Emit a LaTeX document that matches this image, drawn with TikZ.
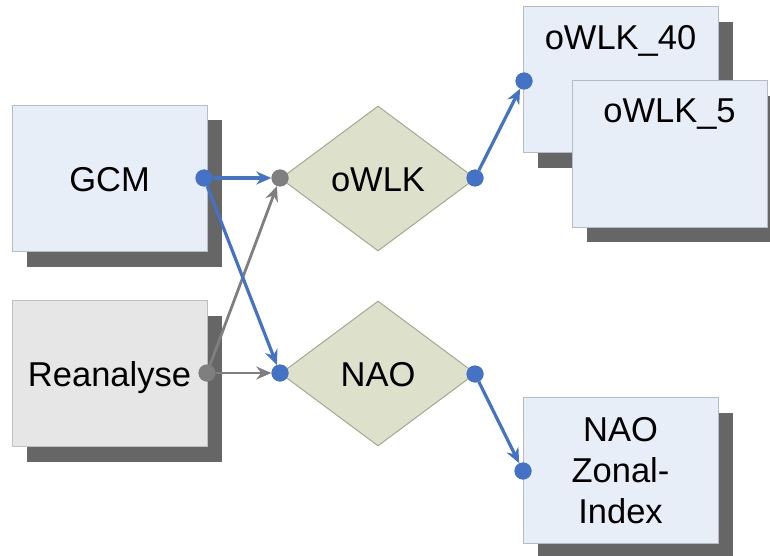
\documentclass[tikz,border=0pt]{standalone}
\usepackage{fontspec}
\setmainfont{Liberation Sans}
\usetikzlibrary{shapes.geometric,arrows.meta,shadows}
\definecolor{boxblue}{HTML}{E8EEF8}
\definecolor{boxline}{HTML}{B4BCC8}
\definecolor{boxgray}{HTML}{E6E6E6}
\definecolor{grayline}{HTML}{BFBFBF}
\definecolor{shadowgray}{HTML}{666666}
\definecolor{diafill}{HTML}{DDE0CA}
\definecolor{dialine}{HTML}{A5A78F}
\definecolor{linkblue}{HTML}{4472C4}
\definecolor{linkgray}{HTML}{7F7F7F}
\begin{document}
\begin{tikzpicture}[x=1pt,y=-1pt,
  font=\fontsize{34.5}{41}\selectfont,
  box/.style={draw=boxline, line width=1pt, fill=boxblue, minimum width=195pt,
    minimum height=146pt, inner sep=0pt, align=center,
    drop shadow={shadow xshift=15pt, shadow yshift=-15pt, fill=shadowgray, opacity=1}},
  graybox/.style={box, draw=grayline, fill=boxgray},
  capc/.style={text height=25pt, text depth=0pt},
  dia/.style={diamond, draw=dialine, line width=1pt, fill=diafill, minimum width=195pt,
    minimum height=145pt, inner sep=0pt, capc},
  bdot/.style={circle, fill=linkblue, minimum size=17pt, inner sep=0pt},
  gdot/.style={circle, fill=linkgray, minimum size=17pt, inner sep=0pt},
  blink/.style={draw=linkblue, line width=3.2pt, -{Stealth[length=15pt,width=13pt]}},
  glink/.style={draw=linkgray, line width=2.8pt, -{Stealth[length=15pt,width=13pt]}},
  lbl/.style={anchor=base, inner sep=0pt}
]
\useasboundingbox (0,0) rectangle (770,556);

% boxes
\node[box, capc] (gcm) at (109.5,178.5) {GCM};
\node[graybox, capc] (rea) at (109.5,373.5) {Reanalyse};
\node[box] (w40) at (620.5,80) {};
\node[lbl] (w40t) at (620.5,50) {oWLK\_40};
\node[box] (w5) at (669.5,154) {};
\node[lbl] (w5t) at (669.5,123) {oWLK\_5};
\node[box] (nzi) at (620.5,470.5) {NAO\\Zonal-\\Index};

% diamonds
\node[dia] (owlk) at (378,178.5) {oWLK};
\node[dia] (nao) at (378,373.5) {NAO};

% ports
\node[bdot] (gcmd) at (204,178) {};
\node[gdot] (read) at (207,373) {};
\node[gdot] (owlkin) at (280,178) {};
\node[bdot] (naoin) at (280,373) {};
\node[bdot] (owlkout) at (475,178) {};
\node[bdot] (naoout) at (475,374) {};
\node[bdot] (w40in) at (524,81) {};
\node[bdot] (nziin) at (523,471) {};

% connectors
\draw[glink] (read) -- (owlkin);
\draw[glink] (read) -- (naoin);
\draw[blink] (gcmd) -- (owlkin);
\draw[blink] (gcmd) -- (naoin);
\draw[blink] (owlkout) -- (w40in);
\draw[blink] (naoout) -- (nziin);

% redraw dots on top
\node[bdot] at (gcmd) {};
\node[gdot] at (read) {};
\node[gdot] at (owlkin) {};
\node[bdot] at (naoin) {};
\node[bdot] at (owlkout) {};
\node[bdot] at (naoout) {};
\node[bdot] at (w40in) {};
\node[bdot] at (nziin) {};
\end{tikzpicture}
\end{document}
